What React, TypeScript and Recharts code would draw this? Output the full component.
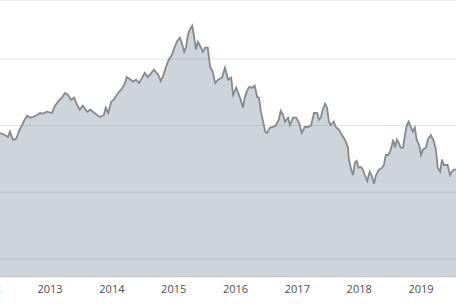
import { AreaChart, Area, XAxis, YAxis, CartesianGrid } from "recharts";

// decimal years
const dates = [
  2012.19, 2012.27, 2012.32, 2012.35, 2012.40, 2012.45, 2012.51, 2012.59, 2012.63, 2012.68,
  2012.72, 2012.79, 2012.84, 2012.89, 2012.95, 2013.03, 2013.08, 2013.13, 2013.19, 2013.24,
  2013.29, 2013.34, 2013.39, 2013.44, 2013.48, 2013.53, 2013.60, 2013.65, 2013.69, 2013.76,
  2013.81, 2013.87, 2013.90, 2013.94, 2013.99, 2014.03, 2014.10, 2014.15, 2014.21, 2014.24,
  2014.29, 2014.34, 2014.39, 2014.44, 2014.49, 2014.53, 2014.58, 2014.63, 2014.68, 2014.75,
  2014.79, 2014.83, 2014.87, 2014.92, 2014.97, 2015.00, 2015.05, 2015.10, 2015.13, 2015.17,
  2015.20, 2015.23, 2015.26, 2015.30, 2015.33, 2015.36, 2015.39, 2015.42, 2015.47, 2015.51,
  2015.55, 2015.59, 2015.63, 2015.67, 2015.72, 2015.78, 2015.83, 2015.88, 2015.93, 2015.96,
  2016.01, 2016.06, 2016.09, 2016.12, 2016.15, 2016.18, 2016.22, 2016.27, 2016.31, 2016.35,
  2016.38, 2016.41, 2016.44, 2016.48, 2016.51, 2016.56, 2016.61, 2016.65, 2016.70, 2016.73,
  2016.77, 2016.80, 2016.85, 2016.88, 2016.93, 2016.98, 2017.03, 2017.07, 2017.12, 2017.17,
  2017.22, 2017.27, 2017.32, 2017.35, 2017.38, 2017.41, 2017.45, 2017.48, 2017.51, 2017.54,
  2017.59, 2017.62, 2017.67, 2017.72, 2017.77, 2017.82, 2017.83, 2017.87, 2017.90, 2017.93,
  2017.96, 2017.99, 2018.03, 2018.06, 2018.09, 2018.13, 2018.17, 2018.21, 2018.24, 2018.27,
  2018.32, 2018.37, 2018.40, 2018.43, 2018.47, 2018.50, 2018.53, 2018.55, 2018.58, 2018.61,
  2018.64, 2018.67, 2018.71, 2018.74, 2018.77, 2018.80, 2018.84, 2018.87, 2018.90, 2018.93,
  2018.97, 2019.00, 2019.03, 2019.08, 2019.11, 2019.16, 2019.21, 2019.24, 2019.27, 2019.31,
  2019.34, 2019.37, 2019.40, 2019.43, 2019.47, 2019.50, 2019.53, 2019.57,
];

const prices = [
  118.9, 118.6, 118.3, 119.1, 117.9, 118.0, 119.4, 120.9, 121.5, 121.2,
  121.3, 121.6, 121.9, 121.8, 122.1, 121.9, 123.0, 123.6, 124.2, 124.9,
  124.6, 123.9, 124.2, 123.1, 122.4, 123.0, 122.1, 122.4, 122.1, 121.6,
  121.3, 121.6, 122.7, 121.9, 123.6, 123.9, 124.9, 125.4, 126.3, 127.3,
  127.0, 126.6, 126.9, 126.4, 127.2, 127.9, 127.3, 127.8, 128.4, 127.6,
  126.7, 127.5, 128.7, 129.9, 130.6, 131.4, 132.6, 133.2, 132.4, 131.1,
  131.8, 133.6, 134.4, 135.0, 133.3, 131.4, 132.6, 132.1, 131.1, 131.7,
  131.7, 128.8, 128.1, 126.4, 126.9, 127.2, 128.7, 126.9, 127.2, 124.6,
  125.7, 124.5, 123.7, 122.7, 124.2, 125.1, 125.8, 125.7, 126.0, 124.3,
  124.2, 122.1, 120.9, 119.1, 118.9, 119.7, 119.8, 120.0, 120.9, 122.2,
  121.6, 120.6, 121.2, 120.1, 121.2, 121.2, 120.4, 118.9, 119.8, 119.8,
  120.0, 121.9, 121.9, 120.9, 121.2, 122.4, 123.3, 122.7, 120.6, 120.1,
  120.6, 119.8, 119.4, 118.6, 117.9, 116.7, 115.2, 113.4, 112.6, 114.4,
  114.7, 113.7, 113.8, 113.4, 112.6, 111.7, 113.1, 112.3, 111.3, 112.5,
  113.4, 113.7, 114.1, 115.6, 115.6, 116.1, 117.1, 117.9, 116.7, 117.9,
  117.4, 116.7, 116.7, 118.6, 120.1, 120.6, 119.7, 119.1, 119.7, 117.9,
  117.1, 115.6, 116.4, 116.7, 117.9, 118.6, 117.6, 116.4, 113.7, 113.1,
  114.9, 114.1, 114.1, 114.1, 112.6, 113.1, 113.4, 113.4,
];

const yearTicks = [2012, 2013, 2014, 2015, 2016, 2017, 2018, 2019];
const gridValues = [100, 110, 120, 130];

const data = dates.map((t, i) => ({ t, v: prices[i] }));

export default function App() {
  return (
    <div style={{ position: "fixed", left: 0, top: 0, width: 456, height: 304, overflow: "hidden", background: "#fff" }}>
      <div style={{ position: "absolute", left: -30, top: 0 }}>
        <AreaChart width={486} height={304} data={data} margin={{ top: 0, right: 0, bottom: 0, left: 0 }}>
          <CartesianGrid vertical={false} stroke="#e0e0e0" />
          <XAxis
            dataKey="t"
            type="number"
            domain={[2011.705, 2019.566]}
            allowDataOverflow
            ticks={yearTicks}
            tickFormatter={(v: number) => String(v)}
            axisLine={false}
            tickLine={false}
            height={27}
            tick={{ fill: "#4d4d4d", fontSize: 11, fontFamily: "Open Sans" }}
          />
          <YAxis hide domain={[97.3, 138.85]} allowDataOverflow ticks={gridValues} />
          <Area
            type="linear"
            dataKey="v"
            stroke="#838a90"
            strokeWidth={1.8}
            fill="#708495"
            fillOpacity={0.35}
            isAnimationActive={false}
            dot={false}
            activeDot={false}
          />
        </AreaChart>
      </div>
    </div>
  );
}
